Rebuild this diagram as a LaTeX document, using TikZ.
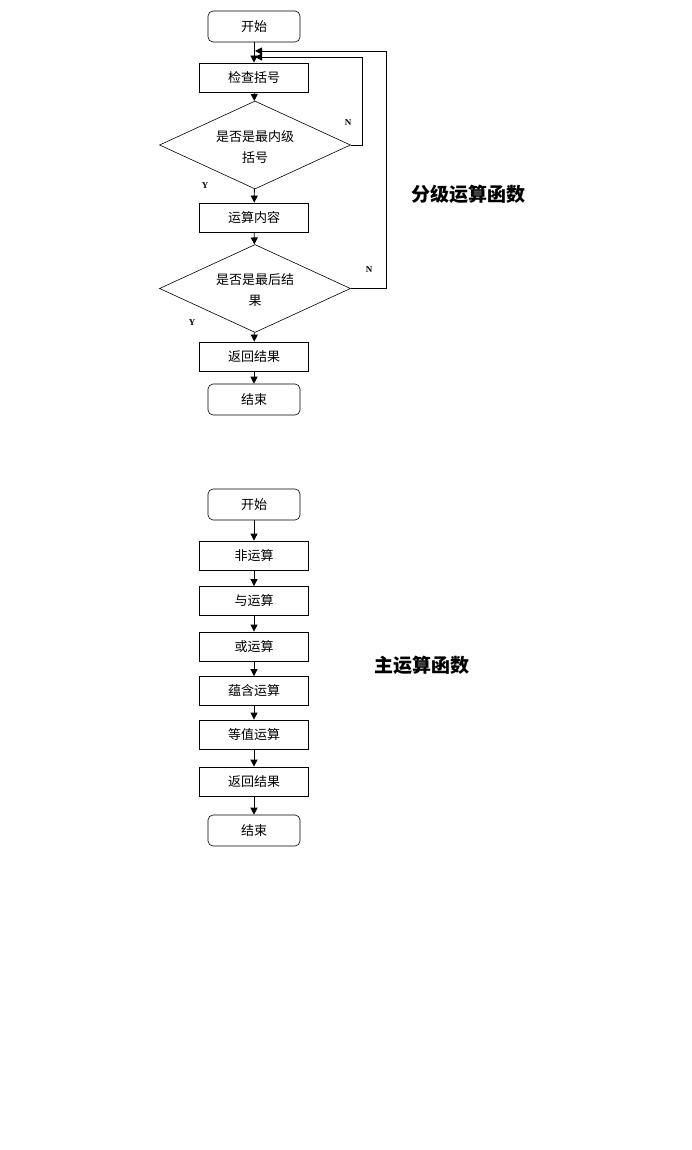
\documentclass[tikz,border=0pt]{standalone}
\usepackage{fontspec}
\newfontfamily\cjk{Noto Sans CJK SC}
\newfontfamily\yn{Liberation Serif}
\usetikzlibrary{shapes.geometric,arrows.meta}
\begin{document}
\begin{tikzpicture}[x=1pt,y=-1pt,
  every node/.style={font=\cjk\fontsize{13}{15}\selectfont},
  proc/.style={draw,line width=0.8pt,minimum width=109pt,minimum height=29pt,inner sep=0pt},
  term/.style={draw,line width=0.6pt,rounded corners=5pt,minimum width=92pt,minimum height=31pt,inner sep=0pt},
  dec/.style={draw,line width=0.6pt,diamond,aspect=2.17,minimum width=191pt,minimum height=88pt,inner sep=0pt},
  dtext/.style={align=center,inner sep=0pt,font=\cjk\fontsize{13}{21}\selectfont},
  arr/.style={line width=0.8pt,-{Triangle[length=7pt,width=7pt]}},
  lbl/.style={font=\yn\bfseries\fontsize{9}{9}\selectfont},
  ttl/.style={font=\cjk\bfseries\fontsize{19}{19}\selectfont}]
\useasboundingbox (0,0) rectangle (692,1150);
% top chart
\node[term] (s1) at (254,26.5) {开始};
\node[proc] (a1) at (254,77.5) {检查括号};
\node[dec] (d1) at (255,145) {};
\node[dtext] (d1t) at (255,147) {是否是最内级\\括号};
\node[proc] (a2) at (254,217.5) {运算内容};
\node[dec] (d2) at (255,288.5) {};
\node[dtext] (d2t) at (255,290) {是否是最后结\\果};
\node[proc] (a3) at (254,356.5) {返回结果};
\node[term] (e1) at (254,399.5) {结束};
\coordinate (j1) at (255,57);
\coordinate (j2) at (255,51);
\draw[arr] (s1) -- (a1);
\draw[arr] (a1) -- (d1);
\draw[arr] (d1) -- (a2);
\draw[arr] (a2) -- (d2);
\draw[arr] (d2) -- (a3);
\draw[arr] (a3) -- (e1);
\draw[arr] (d1.east) -- (362,145) -- (362,57) -- (j1);
\draw[arr] (d2.east) -- (386,288.5) -- (386,51) -- (j2);
\node[lbl] (n1) at (348,123) {N};
\node[lbl] (y1) at (205,186) {Y};
\node[lbl] (n2) at (369,270) {N};
\node[lbl] (y2) at (192,323) {Y};
\node[ttl] (t1) at (468,194) {分级运算函数};
% bottom chart
\node[term] (s2) at (254,504.5) {开始};
\node[proc] (b1) at (254,555.5) {非运算};
\node[proc] (b2) at (254,601) {与运算};
\node[proc] (b3) at (254,646.5) {或运算};
\node[proc] (b4) at (254,691) {蕴含运算};
\node[proc] (b5) at (254,734.5) {等值运算};
\node[proc] (b6) at (254,781.5) {返回结果};
\node[term] (e2) at (254,830.5) {结束};
\draw[arr] (s2) -- (b1);
\draw[arr] (b1) -- (b2);
\draw[arr] (b2) -- (b3);
\draw[arr] (b3) -- (b4);
\draw[arr] (b4) -- (b5);
\draw[arr] (b5) -- (b6);
\draw[arr] (b6) -- (e2);
\node[ttl] (t2) at (422,665) {主运算函数};
\end{tikzpicture}
\end{document}
